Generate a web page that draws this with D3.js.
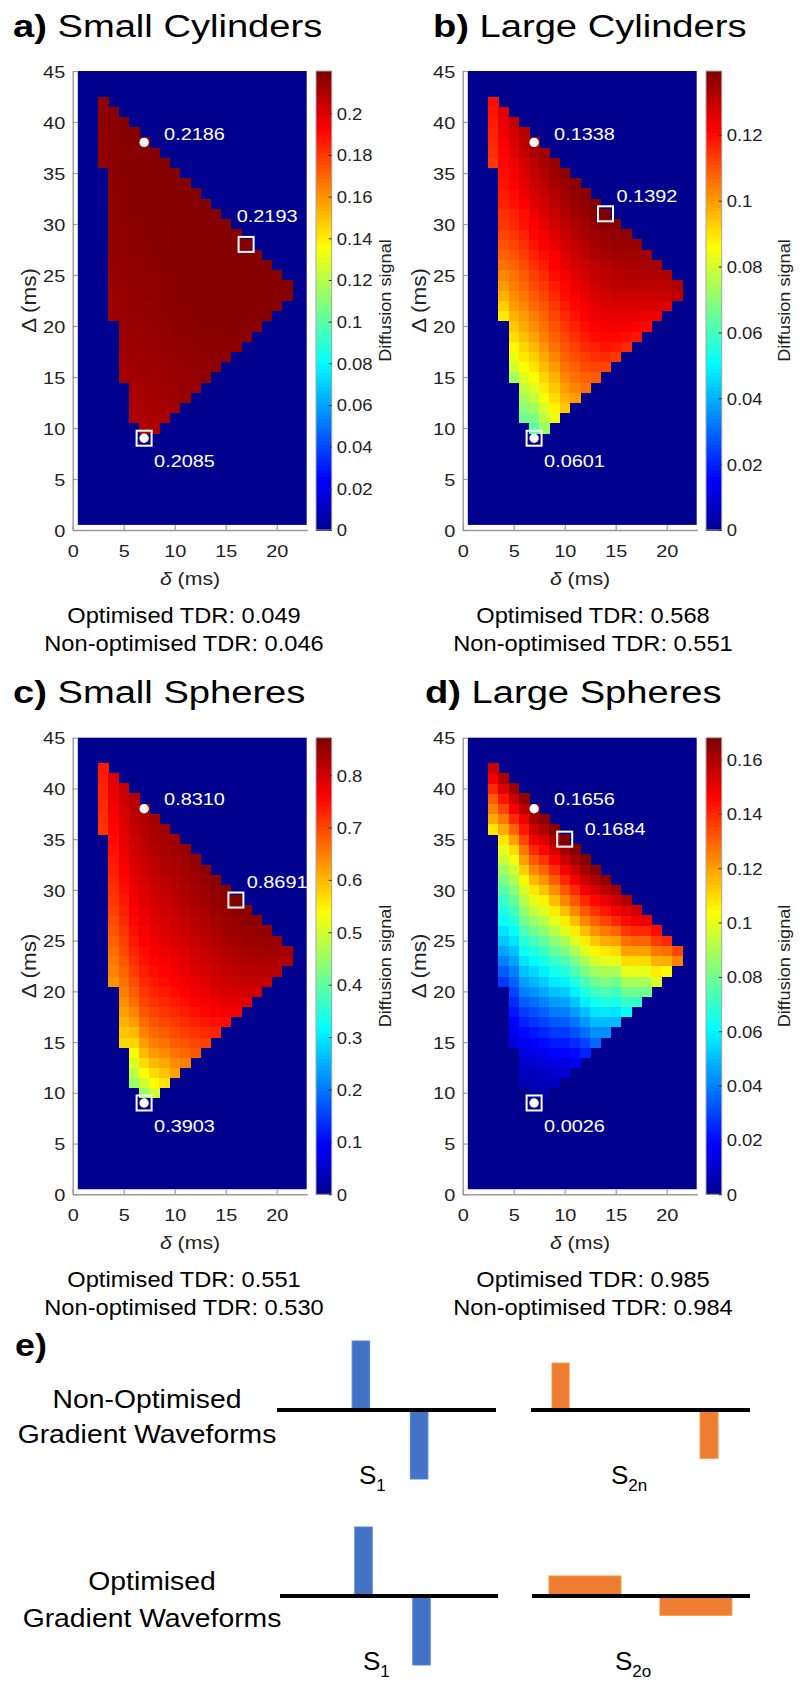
<!DOCTYPE html>
<html><head><meta charset="utf-8">
<script src="https://cdn.jsdelivr.net/npm/d3@7"></script>
<style>html,body{margin:0;padding:0;background:#fff;} svg{display:block;}</style>
</head><body><div id="chart"></div>
<script>
// ---------------- DATA ----------------
// columns of the heat maps: delta (ms); each column lists values from its lowest Delta upwards
const deltaCategories = [3,4,5,6,7,8,9,10,11,12,13,14,15,16,17,18,19,20,21];
const DeltaStart      = [36,21,15,11,10,10,11,12,13,14,15,16,17,18,19,20,21,22,23];
const xTicks = [0,5,10,15,20];
const yTicks = [0,5,10,15,20,25,30,35,40,45];

const smallCylValues = [
 [0.2160,0.2162,0.2164,0.2166,0.2168,0.2170,0.2172],
 [0.2140,0.2143,0.2146,0.2149,0.2152,0.2155,0.2158,0.2160,0.2162,0.2164,0.2166,0.2168,0.2170,0.2172,0.2174,0.2175,0.2176,0.2177,0.2178,0.2179,0.2180],
 [0.2120,0.2125,0.2130,0.2135,0.2139,0.2143,0.2147,0.2151,0.2155,0.2158,0.2161,0.2164,0.2167,0.2170,0.2172,0.2174,0.2176,0.2178,0.2179,0.2180,0.2181,0.2182,0.2183,0.2184,0.2185,0.2186],
 [0.2095,0.2102,0.2109,0.2116,0.2122,0.2128,0.2134,0.2139,0.2144,0.2149,0.2153,0.2157,0.2161,0.2164,0.2167,0.2170,0.2172,0.2174,0.2176,0.2178,0.2179,0.2180,0.2181,0.2182,0.2183,0.2184,0.2185,0.2186,0.2186],
 [0.2090,0.2100,0.2108,0.2116,0.2123,0.2130,0.2136,0.2141,0.2146,0.2151,0.2155,0.2159,0.2163,0.2166,0.2169,0.2172,0.2174,0.2176,0.2178,0.2180,0.2181,0.2182,0.2183,0.2184,0.2185,0.2186,0.2186,0.2186,0.2186],
 [0.2100,0.2108,0.2116,0.2123,0.2130,0.2136,0.2142,0.2147,0.2152,0.2156,0.2160,0.2164,0.2167,0.2170,0.2173,0.2175,0.2177,0.2179,0.2181,0.2182,0.2183,0.2184,0.2185,0.2186,0.2187,0.2187,0.2188,0.2188],
 [0.2115,0.2122,0.2129,0.2136,0.2142,0.2148,0.2153,0.2158,0.2162,0.2166,0.2169,0.2172,0.2175,0.2177,0.2179,0.2181,0.2182,0.2183,0.2184,0.2185,0.2186,0.2187,0.2188,0.2188,0.2189,0.2189],
 [0.2130,0.2137,0.2143,0.2149,0.2155,0.2160,0.2164,0.2168,0.2171,0.2174,0.2177,0.2179,0.2181,0.2183,0.2184,0.2185,0.2186,0.2187,0.2188,0.2189,0.2189,0.2190,0.2190,0.2190],
 [0.2142,0.2149,0.2155,0.2160,0.2165,0.2169,0.2172,0.2175,0.2178,0.2180,0.2182,0.2184,0.2185,0.2186,0.2187,0.2188,0.2189,0.2189,0.2190,0.2190,0.2191,0.2191],
 [0.2152,0.2158,0.2163,0.2168,0.2172,0.2175,0.2178,0.2180,0.2182,0.2184,0.2185,0.2186,0.2187,0.2188,0.2189,0.2190,0.2190,0.2191,0.2191,0.2192],
 [0.2160,0.2165,0.2170,0.2174,0.2177,0.2180,0.2182,0.2184,0.2185,0.2186,0.2187,0.2188,0.2189,0.2190,0.2191,0.2191,0.2192,0.2192],
 [0.2166,0.2171,0.2175,0.2178,0.2181,0.2183,0.2185,0.2186,0.2187,0.2188,0.2189,0.2190,0.2191,0.2191,0.2192,0.2192],
 [0.2171,0.2175,0.2179,0.2182,0.2184,0.2185,0.2187,0.2188,0.2189,0.2190,0.2191,0.2191,0.2192,0.2192],
 [0.2175,0.2179,0.2182,0.2184,0.2186,0.2187,0.2188,0.2189,0.2190,0.2191,0.2192,0.2192],
 [0.2178,0.2181,0.2184,0.2186,0.2187,0.2189,0.2190,0.2191,0.2192,0.2193],
 [0.2180,0.2183,0.2185,0.2187,0.2188,0.2189,0.2190,0.2191],
 [0.2182,0.2185,0.2187,0.2188,0.2189,0.2190],
 [0.2184,0.2186,0.2188,0.2189],
 [0.2185,0.2187]
];

const largeCylValues = [
 [0.114,0.115,0.116,0.117,0.118,0.119,0.120],
 [0.089,0.093,0.097,0.100,0.103,0.106,0.108,0.110,0.112,0.114,0.115,0.117,0.118,0.119,0.120,0.121,0.122,0.123,0.124,0.125,0.126],
 [0.073,0.080,0.084,0.087,0.091,0.094,0.097,0.100,0.102,0.104,0.106,0.108,0.110,0.112,0.114,0.116,0.117,0.119,0.120,0.122,0.123,0.124,0.126,0.127,0.128,0.130],
 [0.066,0.070,0.074,0.078,0.082,0.086,0.089,0.092,0.095,0.098,0.100,0.103,0.105,0.107,0.109,0.111,0.113,0.115,0.117,0.119,0.120,0.122,0.124,0.125,0.127,0.128,0.130,0.131,0.132],
 [0.063,0.068,0.073,0.078,0.082,0.086,0.090,0.093,0.096,0.099,0.102,0.104,0.107,0.109,0.111,0.113,0.115,0.117,0.119,0.121,0.122,0.124,0.126,0.127,0.129,0.130,0.131,0.133,0.134],
 [0.072,0.077,0.081,0.085,0.089,0.092,0.095,0.098,0.101,0.104,0.106,0.108,0.110,0.112,0.114,0.116,0.118,0.120,0.122,0.123,0.125,0.127,0.128,0.130,0.131,0.132,0.134,0.135],
 [0.084,0.088,0.091,0.094,0.097,0.100,0.103,0.106,0.108,0.110,0.112,0.114,0.116,0.118,0.120,0.122,0.123,0.125,0.126,0.128,0.129,0.131,0.132,0.134,0.135,0.136],
 [0.094,0.097,0.100,0.103,0.106,0.108,0.110,0.112,0.114,0.116,0.118,0.120,0.121,0.123,0.125,0.126,0.128,0.129,0.131,0.132,0.134,0.135,0.136,0.137],
 [0.100,0.103,0.106,0.108,0.111,0.113,0.115,0.117,0.119,0.121,0.122,0.124,0.126,0.127,0.129,0.130,0.132,0.133,0.135,0.136,0.137,0.138],
 [0.106,0.108,0.111,0.113,0.116,0.118,0.120,0.122,0.123,0.125,0.126,0.128,0.129,0.131,0.132,0.134,0.135,0.136,0.137,0.138],
 [0.109,0.112,0.115,0.117,0.120,0.122,0.124,0.125,0.127,0.128,0.130,0.131,0.133,0.134,0.135,0.137,0.138,0.139],
 [0.112,0.116,0.119,0.121,0.123,0.125,0.127,0.128,0.130,0.131,0.132,0.134,0.135,0.136,0.138,0.1392],
 [0.114,0.118,0.121,0.123,0.125,0.127,0.129,0.131,0.132,0.133,0.135,0.136,0.137,0.138],
 [0.116,0.120,0.123,0.125,0.127,0.129,0.131,0.132,0.134,0.135,0.136,0.137],
 [0.119,0.122,0.125,0.127,0.129,0.131,0.132,0.134,0.135,0.136],
 [0.121,0.124,0.127,0.129,0.131,0.133,0.134,0.135],
 [0.124,0.127,0.129,0.131,0.133,0.134],
 [0.126,0.129,0.131,0.133],
 [0.131,0.133]
];

const smallSphValues = [
 [0.715,0.720,0.725,0.728,0.731,0.735,0.740],
 [0.634,0.645,0.655,0.665,0.675,0.685,0.695,0.705,0.713,0.720,0.727,0.734,0.740,0.746,0.752,0.758,0.764,0.770,0.775,0.780,0.790],
 [0.574,0.590,0.605,0.620,0.635,0.650,0.662,0.674,0.685,0.695,0.705,0.715,0.724,0.733,0.741,0.749,0.756,0.763,0.770,0.776,0.782,0.788,0.794,0.800,0.806,0.812],
 [0.450,0.480,0.510,0.540,0.575,0.600,0.625,0.645,0.665,0.680,0.695,0.708,0.720,0.730,0.740,0.748,0.756,0.763,0.770,0.776,0.782,0.788,0.794,0.800,0.806,0.811,0.816,0.821,0.826],
 [0.450,0.500,0.540,0.570,0.600,0.625,0.648,0.668,0.685,0.700,0.713,0.725,0.735,0.745,0.753,0.761,0.768,0.775,0.781,0.787,0.793,0.799,0.805,0.810,0.815,0.820,0.825,0.828,0.831],
 [0.500,0.540,0.570,0.600,0.627,0.650,0.670,0.688,0.703,0.717,0.729,0.740,0.750,0.758,0.766,0.773,0.780,0.787,0.793,0.799,0.805,0.811,0.816,0.821,0.826,0.830,0.834,0.838],
 [0.560,0.590,0.615,0.640,0.662,0.682,0.700,0.715,0.728,0.740,0.750,0.760,0.768,0.776,0.783,0.790,0.797,0.803,0.809,0.815,0.820,0.825,0.830,0.835,0.839,0.843],
 [0.620,0.640,0.660,0.680,0.697,0.712,0.726,0.739,0.750,0.760,0.769,0.777,0.785,0.792,0.799,0.805,0.811,0.817,0.823,0.828,0.833,0.838,0.843,0.847],
 [0.650,0.670,0.690,0.707,0.723,0.737,0.749,0.760,0.770,0.778,0.786,0.794,0.801,0.808,0.814,0.820,0.826,0.832,0.837,0.842,0.847,0.851],
 [0.685,0.700,0.717,0.733,0.747,0.759,0.770,0.779,0.788,0.796,0.803,0.810,0.817,0.823,0.829,0.835,0.840,0.845,0.850,0.854],
 [0.705,0.725,0.742,0.756,0.768,0.779,0.788,0.797,0.805,0.812,0.819,0.826,0.832,0.838,0.844,0.849,0.854,0.858],
 [0.730,0.748,0.763,0.776,0.787,0.797,0.806,0.814,0.821,0.828,0.834,0.840,0.846,0.851,0.856,0.861],
 [0.752,0.768,0.782,0.794,0.804,0.813,0.821,0.828,0.835,0.841,0.847,0.853,0.858,0.863],
 [0.770,0.785,0.798,0.809,0.818,0.826,0.833,0.840,0.847,0.853,0.859,0.869],
 [0.786,0.800,0.812,0.822,0.830,0.838,0.845,0.851,0.857,0.862],
 [0.800,0.813,0.824,0.833,0.841,0.848,0.854,0.859],
 [0.812,0.824,0.834,0.842,0.849,0.855],
 [0.822,0.833,0.842,0.849],
 [0.830,0.840]
];

const largeSphValues = [
 [0.108,0.118,0.125,0.131,0.140,0.148,0.155],
 [0.028,0.034,0.040,0.046,0.052,0.057,0.062,0.066,0.070,0.076,0.082,0.088,0.095,0.100,0.108,0.118,0.127,0.135,0.143,0.152,0.160],
 [0.013,0.016,0.019,0.022,0.026,0.030,0.035,0.040,0.046,0.051,0.057,0.062,0.067,0.072,0.078,0.084,0.090,0.096,0.102,0.110,0.120,0.130,0.140,0.148,0.155,0.163],
 [0.006,0.008,0.010,0.013,0.016,0.020,0.024,0.029,0.034,0.040,0.045,0.051,0.057,0.063,0.068,0.074,0.080,0.086,0.092,0.098,0.105,0.112,0.120,0.127,0.135,0.143,0.150,0.158,0.165],
 [0.004,0.006,0.008,0.011,0.014,0.018,0.022,0.027,0.032,0.037,0.043,0.049,0.055,0.061,0.067,0.073,0.080,0.087,0.094,0.100,0.108,0.116,0.124,0.132,0.140,0.148,0.155,0.162,0.1656],
 [0.005,0.007,0.009,0.012,0.016,0.020,0.025,0.030,0.035,0.041,0.047,0.053,0.059,0.065,0.071,0.078,0.085,0.092,0.099,0.106,0.114,0.122,0.130,0.138,0.146,0.153,0.160,0.166],
 [0.008,0.011,0.014,0.018,0.023,0.028,0.033,0.039,0.045,0.051,0.058,0.064,0.071,0.078,0.085,0.092,0.100,0.107,0.115,0.123,0.131,0.139,0.147,0.154,0.161,0.167],
 [0.011,0.014,0.018,0.023,0.028,0.034,0.040,0.046,0.053,0.060,0.067,0.074,0.082,0.090,0.099,0.107,0.115,0.124,0.132,0.140,0.148,0.155,0.162,0.1684],
 [0.016,0.020,0.026,0.032,0.038,0.045,0.052,0.059,0.066,0.074,0.082,0.090,0.099,0.107,0.115,0.124,0.132,0.140,0.148,0.155,0.162,0.167],
 [0.024,0.030,0.037,0.044,0.051,0.059,0.066,0.074,0.082,0.090,0.099,0.107,0.115,0.124,0.132,0.140,0.148,0.155,0.162,0.167],
 [0.036,0.043,0.050,0.057,0.064,0.072,0.080,0.088,0.097,0.105,0.113,0.122,0.130,0.138,0.146,0.153,0.160,0.166],
 [0.043,0.050,0.058,0.066,0.074,0.082,0.090,0.100,0.108,0.118,0.127,0.135,0.143,0.150,0.158,0.165],
 [0.050,0.057,0.065,0.072,0.080,0.090,0.100,0.110,0.120,0.130,0.140,0.148,0.155,0.162],
 [0.062,0.070,0.080,0.090,0.100,0.110,0.120,0.128,0.137,0.145,0.152,0.160],
 [0.070,0.080,0.090,0.100,0.110,0.120,0.130,0.140,0.148,0.155],
 [0.080,0.090,0.100,0.110,0.120,0.130,0.140,0.150],
 [0.098,0.107,0.117,0.127,0.137,0.145],
 [0.105,0.118,0.128,0.140],
 [0.125,0.135]
];

// colour-bar limits and ticks
const smallCylRange = [0, 0.2203]; const smallCylTicks = [0,0.02,0.04,0.06,0.08,0.1,0.12,0.14,0.16,0.18,0.2];
const largeCylRange = [0, 0.1394]; const largeCylTicks = [0,0.02,0.04,0.06,0.08,0.1,0.12];
const smallSphRange = [0, 0.8714]; const smallSphTicks = [0,0.1,0.2,0.3,0.4,0.5,0.6,0.7,0.8];
const largeSphRange = [0, 0.1680]; const largeSphTicks = [0,0.02,0.04,0.06,0.08,0.1,0.12,0.14,0.16];

// highlighted points: [delta, Delta, marker, label]
const smallCylMarks = [[7,38,'dot','0.2186'],[17,28,'square','0.2193'],[7,9,'squaredot','0.2085']];
const largeCylMarks = [[7,38,'dot','0.1338'],[14,31,'square','0.1392'],[7,9,'squaredot','0.0601']];
const smallSphMarks = [[7,38,'dot','0.8310'],[16,29,'square','0.8691'],[7,9,'squaredot','0.3903']];
const largeSphMarks = [[7,38,'dot','0.1656'],[10,35,'square','0.1684'],[7,9,'squaredot','0.0026']];

const smallCylTDR = [0.049, 0.046];
const largeCylTDR = [0.568, 0.551];
const smallSphTDR = [0.551, 0.530];
const largeSphTDR = [0.985, 0.984];

const panelTitles = ['Small Cylinders','Large Cylinders','Small Spheres','Large Spheres'];
const panelLetters = ['a)','b)','c)','d)'];

// gradient waveforms (panel e): [start, end, amplitude] on a 0-100 time axis
const waveS1  = [[34.3,42.3,1],[60.9,68.9,-1]];
const waveS2n = [[9.6,17.4,0.68],[77.2,85.4,-0.70]];
const waveS2o = [[7.8,40.8,0.29],[58.7,91.7,-0.28]];

// ---------------- DRAWING ----------------
const FONT = "'Liberation Sans', Arial, Helvetica, sans-serif";
const SX = 1.17;
const W = 800, H = 1691;
const svg = d3.select('#chart').append('svg').attr('width', W).attr('height', H)
  .attr('font-family', FONT);
svg.append('rect').attr('width', W).attr('height', H).attr('fill', '#fff');

function jet(f){
  f = Math.max(0, Math.min(1, f));
  const p = f*63 + 1;
  const u = k => Math.max(0, Math.min(1, k/16, (48-k)/16));
  return d3.rgb(255*u(p-24), 255*u(p-8), 255*u(p+8)).formatHex();
}

function addText(parent, x, y, str, o = {}){
  const t = parent.append('text')
    .attr('transform', `translate(${x},${y})` + (o.rotate ? ` rotate(${o.rotate})` : '') + ` scale(${o.sx ?? SX},1)`)
    .attr('font-size', o.size || 17)
    .attr('text-anchor', o.anchor || 'start')
    .attr('font-weight', o.weight || 'normal')
    .attr('fill', o.fill || '#000');
  if (o.dy) t.attr('dy', o.dy);
  t.text(str);
  return t;
}

const layouts = [
  {x0:72.7,  y0:530,    px:10.2, py:10.2,  cbx:316, cbLab:391, titleX:13,  titleY:37,  tdrX:184, tdrY:623, ranges:smallCylRange, ticks:smallCylTicks, fmt:'.2~f', vals:smallCylValues, marks:smallCylMarks, tdr:smallCylTDR,
   off:{dot:[20,-2], square:[-9.4,-22.7], squaredot:[10,28.5]}},
  {x0:462.7, y0:530,    px:10.2, py:10.2,  cbx:706, cbLab:790, titleX:433, titleY:37,  tdrX:593, tdrY:623, ranges:largeCylRange, ticks:largeCylTicks, fmt:'.2~f', vals:largeCylValues, marks:largeCylMarks, tdr:largeCylTDR,
   off:{dot:[20,-2], square:[11,-12], squaredot:[10,28.5]}},
  {x0:72.7,  y0:1194.3, px:10.2, py:10.147,cbx:316, cbLab:391, titleX:13,  titleY:703, tdrX:184, tdrY:1287, ranges:smallSphRange, ticks:smallSphTicks, fmt:'.1~f', vals:smallSphValues, marks:smallSphMarks, tdr:smallSphTDR,
   off:{dot:[20,-3.5], square:[10.8,-12.3], squaredot:[10,28.7]}},
  {x0:462.7, y0:1194.3, px:10.2, py:10.147,cbx:706, cbLab:790, titleX:425, titleY:703, tdrX:593, tdrY:1287, ranges:largeSphRange, ticks:largeSphTicks, fmt:'.2~f', vals:largeSphValues, marks:largeSphMarks, tdr:largeSphTDR,
   off:{dot:[20,-3.5], square:[20,-4], squaredot:[10,28.7]}}
];

const AXIS_GREY = '#9a9a9a';

layouts.forEach((L, pi) => {
  const g = svg.append('g');
  const x = d3.scaleLinear().domain([0,23]).range([L.x0, L.x0 + 23*L.px]);
  const y = d3.scaleLinear().domain([0,45]).range([L.y0, L.y0 - 45*L.py]);
  const c = d3.scaleLinear().domain(L.ranges).range([0,1]);

  // title
  const tt = addText(g, L.titleX, L.titleY, '', {size:31, sx:1.23});
  tt.append('tspan').attr('font-weight','bold').text(panelLetters[pi]);
  tt.append('tspan').text(' ' + panelTitles[pi]);

  // background of the image (value 0)
  g.append('rect').attr('x', x(0.5)).attr('y', y(45))
    .attr('width', x(22.94) - x(0.5)).attr('height', y(0.5) - y(45))
    .attr('fill', jet(0));

  // cells
  const cells = [];
  deltaCategories.forEach((d, i) => L.vals[i].forEach((v, j) => cells.push({d, D: DeltaStart[i] + j, v})));
  g.append('g').attr('shape-rendering','crispEdges').selectAll('rect').data(cells).join('rect')
    .attr('x', e => x(e.d - 0.5)).attr('y', e => y(e.D + 0.5))
    .attr('width', x(1) - x(0) + 0.5).attr('height', y(0) - y(1) + 0.5)
    .attr('fill', e => jet(c(e.v)));

  // axes
  const ax = g.append('g').attr('transform', `translate(0,${y(0)})`)
    .call(d3.axisBottom(x).tickValues(xTicks).tickSizeInner(-5).tickSizeOuter(0).tickPadding(0));
  const ay = g.append('g').attr('transform', `translate(${x(0)},0)`)
    .call(d3.axisLeft(y).tickValues(yTicks).tickSizeInner(-5).tickSizeOuter(0).tickPadding(0));
  [ax, ay].forEach(a => {
    a.selectAll('path.domain').attr('stroke', AXIS_GREY).attr('stroke-width', 1.4);
    a.selectAll('.tick line').attr('stroke', AXIS_GREY).attr('stroke-width', 1.2);
    a.selectAll('.tick text').attr('font-size', 17).attr('font-family', FONT).attr('fill', '#222');
  });
  ax.selectAll('.tick text').attr('y', 27).attr('dy', null).attr('transform', `scale(${SX},1)`);
  ay.selectAll('.tick text').attr('x', -7.5 / SX).attr('dy', '0.36em').attr('transform', `scale(${SX},1)`);

  // axis labels
  const xl = addText(g, (x(0) + x(23)) / 2, y(0) + 55, '', {size:19, anchor:'middle', sx:1.12, fill:'#222'});
  xl.append('tspan').attr('font-style','italic').text('δ');
  xl.append('tspan').text(' (ms)');
  addText(g, x(0) - 36.5, (y(0) + y(45)) / 2, 'Δ (ms)', {size:20, anchor:'middle', rotate:-90, sx:1.12, fill:'#222'});

  // colour bar
  const cb = d3.scaleLinear().domain(L.ranges).range([y(0), y(45)]);
  const steps = d3.range(0, 128);
  const cbW = 15.7;
  g.append('g').attr('shape-rendering','crispEdges').selectAll('rect').data(steps).join('rect')
    .attr('x', L.cbx).attr('width', cbW)
    .attr('y', s => cb(L.ranges[1] * (s + 1) / 128))
    .attr('height', s => cb(L.ranges[1] * s / 128) - cb(L.ranges[1] * (s + 1) / 128) + 0.6)
    .attr('fill', s => jet((s + 0.5) / 128));
  g.append('rect').attr('x', L.cbx).attr('y', y(45)).attr('width', cbW).attr('height', y(0) - y(45))
    .attr('fill', 'none').attr('stroke', '#a8a8a8').attr('stroke-width', 1);
  const cax = g.append('g').attr('transform', `translate(${L.cbx + cbW},0)`)
    .call(d3.axisRight(cb).tickValues(L.ticks).tickSizeInner(-3).tickSizeOuter(0).tickPadding(0).tickFormat(d3.format(L.fmt)));
  cax.select('path.domain').remove();
  cax.selectAll('.tick line').attr('stroke', '#333').attr('stroke-width', 1);
  cax.selectAll('.tick text').attr('font-size', 16.5).attr('font-family', FONT).attr('fill', '#222')
    .attr('x', 5 / 1.12).attr('dy', '0.36em').attr('transform', 'scale(1.12,1)');
  addText(g, L.cbLab, (y(0) + y(45)) / 2, 'Diffusion signal', {size:16.5, anchor:'middle', rotate:-90, sx:1.1, fill:'#222'});

  // markers
  L.marks.forEach(([d, D, type, lab]) => {
    const cx = x(d), cy = y(D);
    if (type === 'square' || type === 'squaredot') {
      g.append('rect').attr('x', cx - 7.5).attr('y', cy - 7.5).attr('width', 15).attr('height', 15)
        .attr('fill', 'none').attr('stroke', '#fff').attr('stroke-width', 2);
    }
    if (type === 'dot' || type === 'squaredot') {
      g.append('circle').attr('cx', cx).attr('cy', cy).attr('r', 4.7).attr('fill', '#fff');
    }
    const o = L.off[type];
    addText(g, cx + o[0], cy + o[1], lab, {size:17, fill:'#fff'});
  });

  // TDR text
  addText(g, L.tdrX, L.tdrY, 'Optimised TDR: ' + d3.format('.3f')(L.tdr[0]), {size:21.5, anchor:'middle', sx:1.1});
  addText(g, L.tdrX, L.tdrY + 28, 'Non-optimised TDR: ' + d3.format('.3f')(L.tdr[1]), {size:21.5, anchor:'middle', sx:1.1});
});

// ---------------- PANEL e ----------------
const ge = svg.append('g');
addText(ge, 15, 1356, 'e)', {size:32, weight:'bold', sx:1.12});

const rows = [
  {y0:1410, label:['Non-Optimised','Gradient Waveforms'], labelX:147, labelY:[1408,1443], subY:1484,
   waves:[{x0:277, x1:496, data:waveS1, color:'#4472c4', sub:'1', labX:359},
          {x0:531, x1:750, data:waveS2n, color:'#ed7d31', sub:'2n', labX:611}]},
  {y0:1596, label:['Optimised','Gradient Waveforms'], labelX:152, labelY:[1590,1627], subY:1670,
   waves:[{x0:280, x1:498, data:waveS1, color:'#4472c4', sub:'1', labX:363},
          {x0:532, x1:750, data:waveS2o, color:'#ed7d31', sub:'2o', labX:615}]}
];
const ampScale = d3.scaleLinear().domain([-1, 1]).range([69, -69]);
rows.forEach(r => {
  r.label.forEach((s, i) => addText(ge, r.labelX, r.labelY[i], s, {size:26, anchor:'middle', sx:1.09}));
  r.waves.forEach(w => {
    const t = d3.scaleLinear().domain([0, 100]).range([w.x0, w.x1]);
    ge.selectAll(null).data(w.data).join('rect')
      .attr('x', p => t(p[0])).attr('width', p => t(p[1]) - t(p[0]))
      .attr('y', p => r.y0 + Math.min(0, ampScale(p[2]) - ampScale(0)))
      .attr('height', p => Math.abs(ampScale(p[2]) - ampScale(0)))
      .attr('fill', w.color).attr('stroke', d3.color(w.color).brighter(0.4)).attr('stroke-width', 1);
    ge.append('line').attr('x1', w.x0).attr('x2', w.x1).attr('y1', r.y0).attr('y2', r.y0)
      .attr('stroke', '#000').attr('stroke-width', 4);
    const lt = addText(ge, w.labX, r.subY, '', {size:26, anchor:'start', sx:1.0});
    lt.append('tspan').text('S');
    lt.append('tspan').attr('font-size', 17).attr('dy', 7).text(w.sub);
  });
});
</script>
</body></html>
